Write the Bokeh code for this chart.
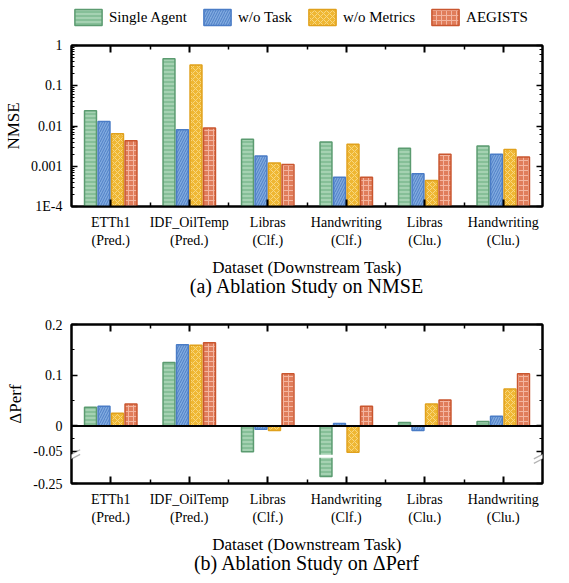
import numpy as np
from bokeh.plotting import figure
from bokeh.models import (ColumnDataSource, FixedTicker, LogTicker, LogAxis, LinearAxis,
                          Legend, LegendItem, Title, Span, CustomJSTickFormatter,
                          PolyAnnotation, Range1d)
from bokeh.layouts import column
from bokeh.embed import file_html
from bokeh.resources import INLINE

# ---------------- data ----------------
datasets = ["ETTh1\n(Pred.)", "IDF_OilTemp\n(Pred.)", "Libras\n(Clf.)",
            "Handwriting\n(Clf.)", "Libras\n(Clu.)", "Handwriting\n(Clu.)"]
methods = ["Single Agent", "w/o Task", "w/o Metrics", "AEGISTS"]

nmse_single = [0.024, 0.47, 0.0047, 0.0040, 0.0028, 0.0032]
nmse_wo_task = [0.013, 0.0081, 0.0018, 0.00053, 0.00065, 0.0020]
nmse_wo_metrics = [0.0064, 0.33, 0.0012, 0.0035, 0.00044, 0.0026]
nmse_aegists = [0.0043, 0.0089, 0.0011, 0.00053, 0.0020, 0.0017]

dperf_single = [0.037, 0.125, -0.051, -0.20, 0.0066, 0.0087]
dperf_wo_task = [0.039, 0.160, -0.0065, 0.0047, -0.009, 0.019]
dperf_wo_metrics = [0.025, 0.159, -0.009, -0.052, 0.043, 0.073]
dperf_aegists = [0.043, 0.164, 0.103, 0.039, 0.051, 0.103]

nmse_series = [nmse_single, nmse_wo_task, nmse_wo_metrics, nmse_aegists]
dperf_series = [dperf_single, dperf_wo_task, dperf_wo_metrics, dperf_aegists]

# ---------------- styles ----------------
FONT = "Liberation Serif"
styles = [
    dict(fill_color="#86bf98", line_color="#5b9b70", hatch_pattern="horizontal_line",
         hatch_color="#c4e4cc", hatch_scale=4, hatch_weight=1),
    dict(fill_color="#80aadf", line_color="#4a7cc6", hatch_pattern="right_diagonal_line",
         hatch_color="#4f80c6", hatch_scale=5, hatch_weight=1),
    dict(fill_color="#efb733", line_color="#e0a11d", hatch_pattern="diagonal_cross",
         hatch_color="#f8d780", hatch_scale=6, hatch_weight=1),
    dict(fill_color="#e07d5b", line_color="#c9562f", hatch_pattern="cross",
         hatch_color="#f3b5a0", hatch_scale=5, hatch_weight=1),
]
offsets = [-0.258, -0.086, 0.086, 0.258]
BAR_W = 0.152
centers = [i + 0.5 for i in range(len(datasets))]

# axis break for the lower chart
BRK = -0.0605
K = 0.28


def brk(v):
    return v if v >= BRK else BRK + (v - BRK) * K


def style_x(ax, labels=True):
    ax.ticker = FixedTicker(ticks=centers, minor_ticks=[1, 2, 3, 4, 5])
    ax.major_tick_in = 7
    ax.major_tick_out = 0
    ax.minor_tick_in = 4
    ax.minor_tick_out = 0
    ax.axis_line_width = 2
    ax.major_tick_line_width = 2
    ax.minor_tick_line_width = 1.5
    ax.axis_line_color = "black"
    ax.major_tick_line_color = "black"
    ax.minor_tick_line_color = "black"
    if labels:
        ax.major_label_overrides = {c: d for c, d in zip(centers, datasets)}
        ax.major_label_text_font = FONT
        ax.major_label_text_font_size = "14px"
        ax.major_label_text_color = "black"
        ax.major_label_standoff = 8
        ax.axis_label = "Dataset (Downstream Task)"
        ax.axis_label_text_font = FONT
        ax.axis_label_text_font_size = "17px"
        ax.axis_label_text_font_style = "normal"
        ax.axis_label_text_color = "black"
        ax.axis_label_standoff = 7
    else:
        ax.formatter = CustomJSTickFormatter(code='return " ";')
        ax.major_label_text_font_size = "4px"
        ax.major_label_text_alpha = 0
        ax.major_label_standoff = 0


def style_y(ax, label=None):
    ax.major_tick_in = 6
    ax.major_tick_out = 0
    ax.minor_tick_in = 3
    ax.minor_tick_out = 0
    ax.axis_line_width = 2
    ax.major_tick_line_width = 1.5
    ax.minor_tick_line_width = 1
    ax.axis_line_color = "black"
    ax.major_tick_line_color = "black"
    ax.minor_tick_line_color = "black"
    if label is not None:
        ax.major_label_text_font = FONT
        ax.major_label_text_font_size = "14px"
        ax.major_label_text_color = "black"
        ax.major_label_standoff = 9
        ax.axis_label = label
        ax.axis_label_text_font = FONT
        ax.axis_label_text_font_size = "17px"
        ax.axis_label_text_font_style = "normal"
        ax.axis_label_text_color = "black"
        ax.axis_label_standoff = 5
    else:
        ax.formatter = CustomJSTickFormatter(code='return " ";')
        ax.major_label_text_font_size = "4px"
        ax.major_label_text_alpha = 0
        ax.major_label_standoff = 0


def base_fig(frame_h, y_range, y_type, top_border, bottom_border):
    p = figure(frame_width=471, frame_height=frame_h, x_range=Range1d(0, 6),
               y_range=y_range, y_axis_type=y_type, output_backend="svg",
               toolbar_location=None, min_border_left=68, min_border_right=14,
               min_border_top=top_border, min_border_bottom=bottom_border)
    p.xgrid.visible = False
    p.ygrid.visible = False
    p.outline_line_color = "black"
    p.outline_line_width = 2
    p.background_fill_color = "white"
    p.border_fill_color = "white"
    return p


def caption(text):
    return Title(text=text, align="center", text_font=FONT, text_font_size="20px",
                 text_font_style="normal", text_color="black", standoff=-13)


# ---------------- legend strip ----------------
pl = figure(width=553, height=37, x_range=Range1d(0, 1), y_range=Range1d(0, 1),
            output_backend="svg", toolbar_location=None, min_border=0,
            x_axis_location=None, y_axis_location=None)
pl.xgrid.visible = False
pl.ygrid.visible = False
pl.outline_line_color = None
pl.border_fill_color = "white"
pl.background_fill_color = "white"
legend_renderers = []
for s in styles:
    # legend-only renderer: one non-drawable (NaN) entry so the key patch is styled
    src = ColumnDataSource(dict(x=np.array([np.nan]), top=np.array([np.nan])))
    legend_renderers.append(pl.vbar(x="x", top="top", width=0.1, source=src,
                                    line_width=1.5, **s))
legend = Legend(items=[LegendItem(label=m, renderers=[r])
                       for m, r in zip(methods, legend_renderers)],
                orientation="horizontal", location=(0, 10),
                glyph_width=34, glyph_height=20, label_standoff=4, spacing=13,
                label_text_font=FONT, label_text_font_size="15px",
                label_text_color="black", border_line_color=None,
                background_fill_alpha=0, padding=0, margin=0)
pl.add_layout(legend, "center")

# ---------------- top chart: NMSE ----------------
p1 = base_fig(161, Range1d(1e-4, 1), "log", 8, 97)
for s, vals, off in zip(styles, nmse_series, offsets):
    src = ColumnDataSource(dict(x=[c + off for c in centers], top=vals,
                                bottom=[1e-4] * len(vals)))
    p1.vbar(x="x", top="top", bottom="bottom", width=BAR_W, source=src,
            line_width=1.5, **s)

style_x(p1.xaxis[0], labels=True)
style_y(p1.yaxis[0], label="NMSE")
p1.yaxis[0].formatter = CustomJSTickFormatter(code="""
    if (tick < 0.0005) return "1E-4";
    return String(parseFloat(tick.toPrecision(3)));
""")
ax_top = LinearAxis()
style_x(ax_top, labels=False)
p1.add_layout(ax_top, "above")
ax_right = LogAxis(ticker=LogTicker())
style_y(ax_right)
p1.add_layout(ax_right, "right")
p1.add_layout(caption("(a) Ablation Study on NMSE"), "below")

# ---------------- bottom chart: ΔPerf ----------------
ymin = brk(-0.25)
p2 = base_fig(159, Range1d(ymin, 0.2), "linear", 21, 97)
for s, vals, off in zip(styles, dperf_series, offsets):
    src = ColumnDataSource(dict(x=[c + off for c in centers], top=[brk(v) for v in vals],
                                bottom=[0] * len(vals)))
    p2.vbar(x="x", top="top", bottom="bottom", width=BAR_W, source=src,
            line_width=1.5, **s)

# white gap where bars cross the axis break
p2.quad(left=[0], right=[6], bottom=[BRK - 0.0025], top=[BRK + 0.0035],
        fill_color="white", line_color=None)
p2.add_layout(Span(location=0, dimension="width", line_color="black", line_width=2))

yticks = [ymin, -0.05, 0, 0.1, 0.2]
yminor = [-0.025, 0.05, 0.15]
style_x(p2.xaxis[0], labels=True)
style_y(p2.yaxis[0], label="ΔPerf")
p2.yaxis[0].ticker = FixedTicker(ticks=yticks, minor_ticks=yminor)
p2.yaxis[0].formatter = CustomJSTickFormatter(code="""
    if (tick < -0.1) return "-0.25";
    if (Math.abs(tick) < 1e-9) return "0";
    return tick.toFixed(2).replace(/0+$/, "").replace(/\\.$/, "");
""")
ax_top2 = LinearAxis()
style_x(ax_top2, labels=False)
p2.add_layout(ax_top2, "above")
ax_right2 = LinearAxis(ticker=FixedTicker(ticks=yticks, minor_ticks=yminor))
style_y(ax_right2)
p2.add_layout(ax_right2, "right")

# axis-break marks "//" on both sides
for x0 in (0, 6):
    dx = 0.11
    dy = 0.009
    gap = 0.0045
    p2.add_layout(PolyAnnotation(
        xs=[x0 - dx, x0 + dx, x0 + dx, x0 - dx],
        ys=[BRK - dy - gap, BRK + dy - gap, BRK + dy + gap, BRK - dy + gap],
        fill_color="white", fill_alpha=1, line_color=None))
    for g in (-gap, gap):
        p2.add_layout(PolyAnnotation(
            xs=[x0 - dx, x0 + dx],
            ys=[BRK - dy + g, BRK + dy + g],
            fill_alpha=0, line_color="black", line_width=1.3))

p2.add_layout(caption("(b) Ablation Study on ΔPerf"), "below")

layout = column(pl, p1, p2, spacing=0)
open("out.html", "w").write(file_html(layout, INLINE))
